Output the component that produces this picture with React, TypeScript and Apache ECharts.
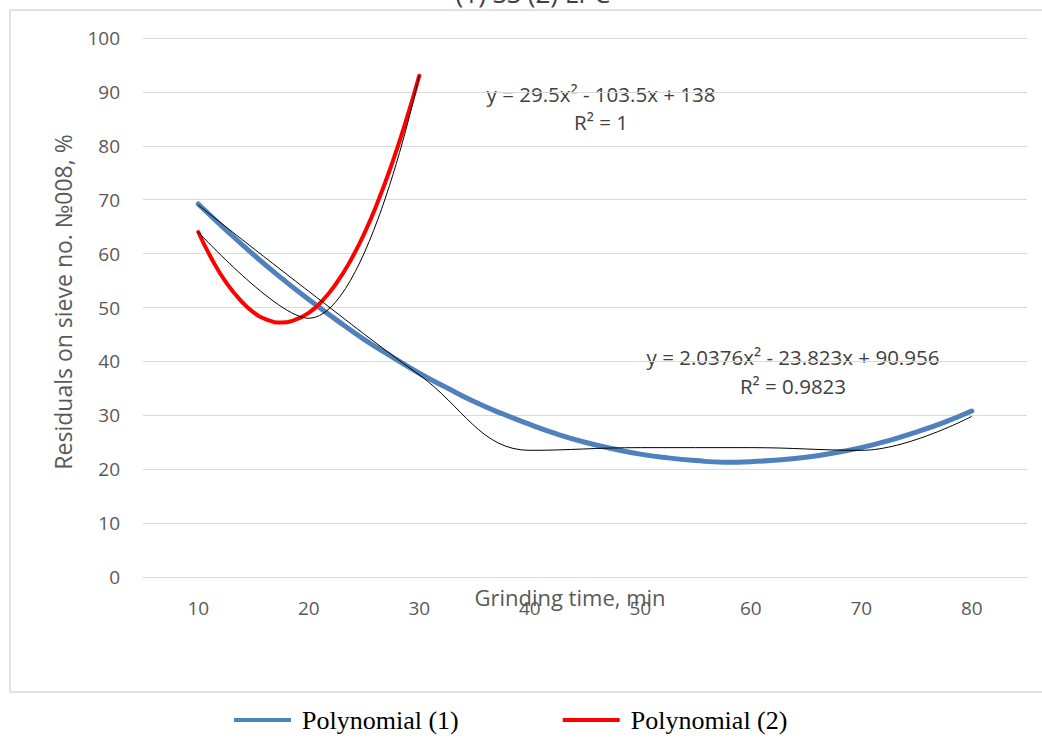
import React, { useEffect, useRef } from "react";
import * as echarts from "echarts";

// Observed data (thin black smoothed lines)
const categories = [10, 20, 30, 40, 50, 60, 70, 80];
const observed1 = [69, 53, 37.5, 23.5, 24, 24, 23.5, 29.8];
const categories2 = [10, 20, 30];
const observed2 = [64, 48, 93];

// Polynomial trendlines, values
const trendX1 = [10, 12.5, 15, 17.5, 20, 22.5, 25, 27.5, 30, 32.5, 35, 37.5, 40, 42.5, 45, 47.5, 50, 52.5, 55, 57.5, 60, 62.5, 65, 67.5, 70, 72.5, 75, 77.5, 80];
const trend1 = [69.2, 64.4, 59.8, 55.5, 51.5, 47.7, 44.1, 40.9, 37.8, 35.1, 32.5, 30.3, 28.3, 26.5, 25.0, 23.8, 22.8, 22.1, 21.6, 21.3, 21.4, 21.7, 22.2, 23.0, 24.0, 25.3, 26.9, 28.7, 30.8];
const trendX2 = [10, 11.25, 12.5, 13.75, 15, 16.25, 17.5, 18.75, 20, 21.25, 22.5, 23.75, 25, 26.25, 27.5, 28.75, 30];
const trend2 = [64, 58.9, 54.7, 51.5, 49.1, 47.7, 47.2, 47.7, 49, 51.3, 54.5, 58.6, 63.6, 69.6, 76.5, 84.3, 93];

const yTicks = { min: 0, max: 100, interval: 10 };
const labelFont = "'Open Sans', 'Noto Sans', sans-serif";

const zip = (xs: number[], ys: number[]) => xs.map((x, i) => [x, ys[i]]);

export default function App() {
  const ref = useRef<HTMLDivElement>(null);
  useEffect(() => {
    document.body.style.margin = "0";
    const chart = echarts.init(ref.current!, null, { renderer: "svg" });
    chart.setOption({
      animation: false,
      backgroundColor: "#ffffff",
      grid: { left: 143, right: 15, top: 38, bottom: 172 },
      xAxis: {
        type: "value",
        min: 5,
        max: 85,
        interval: 5,
        axisLine: { show: true, lineStyle: { color: "#d9d9d9", width: 1 } },
        axisTick: { show: false },
        splitLine: { show: false },
        axisLabel: {
          color: "#595959",
          fontFamily: labelFont,
          fontSize: 19,
          margin: 21,
          showMinLabel: false,
          showMaxLabel: false,
          formatter: (v: number) => (categories.indexOf(v) >= 0 ? String(v) : ""),
        },
      },
      yAxis: {
        type: "value",
        min: yTicks.min,
        max: yTicks.max,
        interval: yTicks.interval,
        axisLine: { show: false },
        axisTick: { show: false },
        splitLine: { lineStyle: { color: "#d9d9d9", width: 1 } },
        axisLabel: { color: "#595959", fontFamily: labelFont, fontSize: 19, margin: 23 },
      },
      legend: {
        data: ["Polynomial (1)", "Polynomial (2)"],
        left: 229,
        top: 702,
        itemWidth: 57,
        itemHeight: 4,
        itemGap: 104,
        icon: "rect",
        textStyle: {
          fontFamily: "'Liberation Serif', 'Times New Roman', serif",
          fontSize: 26,
          color: "#000000",
          padding: [0, 0, 0, 6],
        },
      },
      graphic: [
        {
          type: "rect",
          silent: true,
          z: -10,
          shape: { x: 10, y: 10, width: 1040, height: 682 },
          style: { fill: "none", stroke: "#d9d9d9", lineWidth: 1.5 },
        },
        {
          type: "text",
          style: {
            text: "(1) SS (2) LPC",
            x: 533,
            y: -7,
            align: "center",
            verticalAlign: "middle",
            fontFamily: labelFont,
            fontSize: 26,
            fill: "#404040",
          },
        },
        {
          type: "text",
          style: {
            text: "Grinding time, min",
            x: 570,
            y: 597,
            align: "center",
            verticalAlign: "middle",
            fontFamily: labelFont,
            fontSize: 22,
            fill: "#595959",
          },
        },
        {
          type: "text",
          x: 63,
          y: 302,
          rotation: Math.PI / 2,
          style: {
            text: "Residuals on sieve no. №008, %",
            x: 0,
            y: 0,
            align: "center",
            verticalAlign: "middle",
            fontFamily: labelFont,
            fontSize: 23,
            fill: "#595959",
          },
        },
        {
          type: "text",
          style: {
            text: "y = 29.5x² - 103.5x + 138",
            x: 601,
            y: 94,
            align: "center",
            verticalAlign: "middle",
            fontFamily: labelFont,
            fontSize: 20.5,
            fill: "#404040",
          },
        },
        {
          type: "text",
          style: {
            text: "R² = 1",
            x: 601,
            y: 122,
            align: "center",
            verticalAlign: "middle",
            fontFamily: labelFont,
            fontSize: 20.5,
            fill: "#404040",
          },
        },
        {
          type: "text",
          style: {
            text: "y = 2.0376x² - 23.823x + 90.956",
            x: 793,
            y: 357,
            align: "center",
            verticalAlign: "middle",
            fontFamily: labelFont,
            fontSize: 20.5,
            fill: "#404040",
          },
        },
        {
          type: "text",
          style: {
            text: "R² = 0.9823",
            x: 793,
            y: 386,
            align: "center",
            verticalAlign: "middle",
            fontFamily: labelFont,
            fontSize: 20.5,
            fill: "#404040",
          },
        },
      ],
      series: [
        {
          name: "Polynomial (1)",
          type: "line",
          data: zip(trendX1, trend1),
          smooth: 0.5,
          showSymbol: false,
          color: "#4f81bd",
          lineStyle: { color: "#4f81bd", width: 5, cap: "round" },
          z: 2,
        },
        {
          name: "Polynomial (2)",
          type: "line",
          data: zip(trendX2, trend2),
          smooth: 0.5,
          showSymbol: false,
          color: "#ff0000",
          lineStyle: { color: "#ff0000", width: 4, cap: "round" },
          z: 3,
        },
        {
          name: "(1) SS",
          type: "line",
          data: zip(categories, observed1),
          smooth: 0.4,
          showSymbol: false,
          lineStyle: { color: "#000000", width: 1 },
          z: 4,
        },
        {
          name: "(2) LPC",
          type: "line",
          data: zip(categories2, observed2),
          smooth: 0.4,
          showSymbol: false,
          lineStyle: { color: "#000000", width: 1 },
          z: 4,
        },
      ],
    });
    return () => chart.dispose();
  }, []);
  return <div ref={ref} style={{ width: 1042, height: 749 }} />;
}
